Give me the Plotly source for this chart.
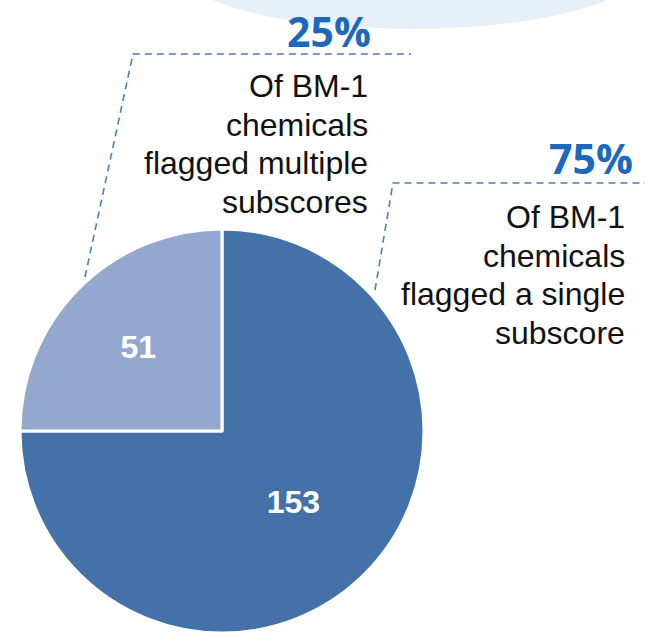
import plotly.graph_objects as go

# Data
slice_labels = ["Flagged a single subscore", "Flagged multiple subscores"]
slice_values = [153, 51]
slice_colors = ["#4472A8", "#94A8CF"]
pct_texts = ["75%", "25%"]
desc_lines_single = ["Of BM-1", "chemicals", "flagged a single", "subscore"]
desc_lines_multi = ["Of BM-1", "chemicals", "flagged multiple", "subscores"]

W, H = 645, 633

fig = go.Figure()

fig.add_trace(go.Pie(
    labels=slice_labels,
    values=slice_values,
    sort=False,
    direction="clockwise",
    rotation=0,
    marker=dict(colors=slice_colors, line=dict(color="white", width=3)),
    textinfo="value",
    textposition="inside",
    insidetextorientation="horizontal",
    textfont=dict(family="Liberation Sans", size=32, color="white", weight="bold"),
    showlegend=False,
    hoverinfo="label+value+percent",
    domain=dict(x=[20 / W, 424 / W], y=[0, 1 - 229 / H]),
))

# decorative cloud at top
fig.add_shape(type="circle", xref="x", yref="y", x0=180, x1=640, y0=-90, y1=29,
              fillcolor="rgba(212,226,243,0.55)", line=dict(width=0), layer="below")

dash_line = dict(color="#4A7EC0", width=1.6, dash="7px,5px")
# leader lines
fig.add_shape(type="path", xref="x", yref="y",
              path="M 85 277 L 133 54 L 411 54", line=dash_line)
fig.add_shape(type="path", xref="x", yref="y",
              path="M 375 290 L 393 183 L 645 183", line=dash_line)

pct_font = dict(family="Open Sans", size=41, color="#1B69BD", weight="bold")
desc_font = dict(family="Liberation Sans", size=32, color="#111111")

# 25% block
fig.add_annotation(x=373, y=1, xref="x", yref="y", text=pct_texts[1],
                   showarrow=False, xanchor="right", yanchor="top", font=pct_font)
for i, line in enumerate(desc_lines_multi):
    fig.add_annotation(x=370, y=86 + 38.5 * i, xref="x", yref="y", text=line,
                       showarrow=False, xanchor="right", yanchor="middle",
                       font=desc_font)
# 75% block
fig.add_annotation(x=635, y=158, xref="x", yref="y", text=pct_texts[0],
                   showarrow=False, xanchor="right", yanchor="middle", font=pct_font)
for i, line in enumerate(desc_lines_single):
    fig.add_annotation(x=627, y=217 + 38.5 * i, xref="x", yref="y", text=line,
                       showarrow=False, xanchor="right", yanchor="middle",
                       font=desc_font)

fig.update_layout(
    width=W, height=H,
    margin=dict(l=0, r=0, t=0, b=0),
    paper_bgcolor="white", plot_bgcolor="rgba(0,0,0,0)",
    xaxis=dict(range=[0, W], visible=False, domain=[0, 1], fixedrange=True),
    yaxis=dict(range=[H, 0], visible=False, domain=[0, 1], fixedrange=True),
)

fig.write_html("out.html")
